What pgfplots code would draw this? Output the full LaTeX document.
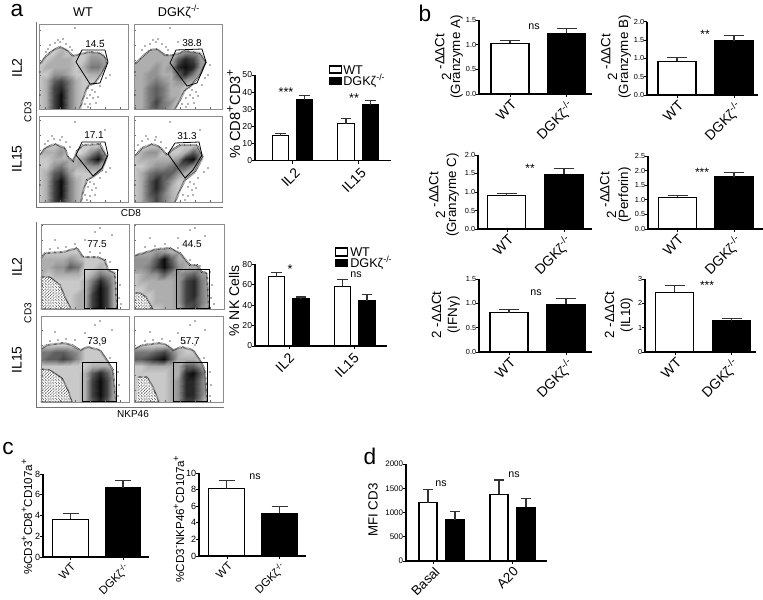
\documentclass[border=0pt]{standalone}
\usepackage{pgfplots}
\pgfplotsset{compat=1.18}
\usepackage{fontspec}
\setmainfont{Liberation Sans}
\usetikzlibrary{patterns}
\pgfdeclarepatternformonly{speckle}{\pgfqpoint{-0.2pt}{-0.2pt}}{\pgfqpoint{2.6pt}{2.6pt}}{\pgfqpoint{2.4pt}{2.4pt}}{%
 \pgfpathcircle{\pgfqpoint{0.4pt}{0.4pt}}{0.28pt}
 \pgfpathcircle{\pgfqpoint{1.5pt}{0.9pt}}{0.28pt}
 \pgfpathcircle{\pgfqpoint{0.7pt}{1.5pt}}{0.28pt}
 \pgfpathcircle{\pgfqpoint{1.9pt}{2.0pt}}{0.28pt}
 \pgfusepath{fill}}
\newcommand{\fs}[1]{\fontsize{#1}{#1}\selectfont}
\newcommand{\dgk}{DGKζ\textsuperscript{-/-}}
\newcommand{\supp}[1]{\raisebox{0.42em}{\fontsize{0.8em}{0.8em}\selectfont #1}}
\pgfplotsset{
 flowc/.style={line width=1.5pt,dash pattern=on 0.3pt off 0.6pt,color=black!85},
 fringe/.style={only marks,mark=*,mark size=0.2pt,color=black,mark options={draw=none,fill=black}},
 gate/.style={line width=0.6pt,color=black},
}
% x0 ybase xend ytop ymax opts xticks xlabels content
\newcommand{\barax}[9]{%
 \pgfmathsetmacro\axw{(#3-#1)*0.75}\pgfmathsetmacro\axh{(#2-#4)*0.75}%
 \begin{axis}[at={({#1*0.75pt},{-#2*0.75pt})},anchor=south west,scale only axis,width=\axw pt,height=\axh pt,
  xmin=#1,xmax=#3,ymin=0,ymax=#5,clip=false,
  axis x line=bottom,axis y line=left,axis line style={-,line width=0.8pt},
  tick style={black,line width=0.7pt},tick align=outside,major tick length=2.4pt,
  xtick={#7},xticklabels={#8},scaled y ticks=false,
  /pgf/number format/assume math mode=true,
  /pgf/number format/1000 sep={},
  xticklabel style={rotate=45,anchor=north east,inner sep=0.5pt,yshift=-0.6pt,font=\fs{10.5}},
  yticklabel style={inner sep=0.3pt,xshift=0.75pt,font=\fs{6.5}},
  #6]
 #9
 \end{axis}}
% cx barwidth(pt) y err colour capsize
\newcommand{\bbar}[6]{\addplot[ybar,bar width=#2pt,bar shift=0pt,draw=black,line width=0.9pt,fill=#5,
  error bars/.cd,y dir=plus,y explicit,error bar style={line width=0.8pt,color=black!80},
  error mark options={mark size=#6pt,line width=0.8pt,color=black!80,rotate=90}]
  coordinates {(#1,#3) +- (0,#4)};}
\newcommand{\flowpanel}[9]{%
 \pgfmathsetmacro\axw{(#3-#1)*0.75}\pgfmathsetmacro\axh{(#4-#2)*0.75}%
 \begin{axis}[at={({#1*0.75pt},{-#4*0.75pt})},anchor=south west,scale only axis,width=\axw pt,height=\axh pt,
  xmin=#1,xmax=#3,ymin=#2,ymax=#4,y dir=reverse,axis on top,
  colormap={bk}{gray(0cm)=(1);gray(9cm)=(0.05)},point meta min=0,point meta max=9,
  xtick distance=15,ytick distance=15,xticklabels={},yticklabels={},
  xtick pos=bottom,ytick pos=left,tick align=inside,major tick length=1.5pt,
  tick style={black!60,line width=0.4pt},axis line style={black!45,line width=0.7pt}]
 \addplot[surf,shader=interp,mesh/cols=13,point meta=explicit] table[row sep=\\,header=false,
   x expr={#1+(#3-#1)*mod(\coordindex,13)/12},y expr={#2+(#4-#2)*floor(\coordindex/13)/12},meta index=0] {#5};
 \addplot[fill=white,draw=none] coordinates {#6 (#3,#4) (#3,#2) (#1,#2)} --cycle;
 #9
 \addplot[flowc] coordinates {#6};
 \addplot[gate] coordinates {#7};
 \addplot[fringe] coordinates {#8};
 \end{axis}}
\newcommand{\speck}[1]{\addplot[fill=white,draw=none] coordinates {#1} --cycle;
 \addplot[pattern=speckle,pattern color=black,draw=none] coordinates {#1} --cycle;
 \addplot[line width=1pt,dash pattern=on 0.3pt off 0.6pt,color=black] coordinates {#1};}
\begin{document}
\begin{tikzpicture}[x=0.75pt,y=-0.75pt]
\useasboundingbox (0,0) rectangle (763,599);
% ---------- panel a, flow plots CD8
\flowpanel{39}{24}{128}{109}{%
2\\2\\2\\2\\2\\2\\2\\2\\2\\2\\2\\2\\2\\
2\\2\\2\\2\\2\\2\\2\\2\\2\\2\\2\\2\\2\\
2\\2\\2\\2\\2\\2\\2\\2\\2\\2\\2\\2\\2\\
2\\2\\2\\2\\2\\2\\2\\2\\2\\2\\2\\2\\2\\
2\\2\\2\\3\\2\\2\\2\\3\\3\\2\\2\\2\\2\\
2\\2\\3\\3\\3\\2\\2\\4\\4\\3\\2\\2\\2\\
2\\3\\3\\3\\3\\2\\3\\5\\5\\3\\2\\2\\2\\
2\\2\\4\\4\\3\\2\\2\\3\\3\\2\\2\\2\\2\\
2\\3\\6\\7\\5\\3\\2\\2\\2\\2\\2\\2\\2\\
2\\3\\7\\8\\5\\3\\2\\2\\2\\2\\2\\2\\2\\
2\\3\\7\\9\\5\\3\\2\\2\\2\\2\\2\\2\\2\\
2\\3\\7\\9\\5\\3\\2\\2\\2\\2\\2\\2\\2\\
2\\3\\7\\9\\5\\3\\2\\2\\2\\2\\2\\2\\2\\
}{(39,64) (41,63) (45,57) (53,50) (60,47) (67,50) (73,56) (80,54) (90,52) (100,53) (105,57) (107,63) (102,73) (95,83) (88,86) (85,93) (82,102) (80,109)}
{(82,50) (105,50) (108,62) (100,83) (90,84) (76,62) (82,50)}
{(50,45) (55,43) (60,42) (66,44) (48,49) (70,47) (72,50) (88,88) (92,90) (95,92) (90,95) (87,98) (93,98) (98,97) (85,104) (90,104) (96,103) (88,107) (103,40) (110,75) (40,72) (40,95) (75,28) (58,40) (63,39) (46,52) (106,78) (100,86)}{}
\flowpanel{134}{24}{222}{109}{%
2\\2\\2\\2\\2\\2\\2\\2\\2\\2\\2\\2\\2\\
2\\2\\2\\2\\2\\2\\2\\2\\2\\2\\2\\2\\2\\
2\\2\\2\\2\\2\\2\\2\\2\\2\\2\\2\\2\\2\\
2\\2\\2\\2\\2\\2\\2\\2\\2\\2\\2\\2\\2\\
3\\3\\3\\3\\3\\3\\3\\4\\4\\3\\3\\3\\3\\
3\\3\\3\\3\\3\\3\\6\\8\\7\\4\\3\\3\\3\\
3\\3\\3\\4\\3\\4\\8\\9\\8\\4\\3\\3\\3\\
3\\3\\4\\4\\3\\3\\6\\8\\5\\3\\3\\3\\3\\
3\\3\\4\\5\\4\\3\\4\\4\\3\\2\\2\\2\\2\\
3\\3\\5\\6\\5\\3\\3\\2\\2\\2\\2\\2\\2\\
3\\3\\5\\6\\5\\3\\3\\2\\2\\2\\2\\2\\2\\
3\\3\\5\\7\\5\\4\\2\\2\\2\\2\\2\\2\\2\\
3\\3\\5\\6\\5\\3\\2\\2\\2\\2\\2\\2\\2\\
}{(134,64) (136,63) (142,57) (150,50) (157,49) (165,55) (173,55) (185,51) (200,53) (206,62) (200,75) (190,87) (185,90) (180,100) (175,109)}
{(176,50) (202,49) (206,62) (197,83) (187,86) (170,63) (176,50)}
{(145,46) (150,44) (156,42) (162,44) (142,50) (166,47) (168,50) (192,90) (196,92) (190,95) (186,98) (193,98) (198,96) (182,104) (188,104) (194,103) (186,107) (198,40) (208,75) (135,72) (135,95) (170,28) (153,40) (158,39) (205,78) (202,85) (210,65) (178,42)}{}
\flowpanel{39}{116}{128}{202}{%
2\\2\\2\\2\\2\\2\\2\\2\\2\\2\\2\\2\\2\\
2\\2\\2\\2\\2\\2\\2\\2\\2\\2\\2\\2\\2\\
2\\2\\2\\2\\2\\2\\2\\2\\2\\2\\2\\2\\2\\
2\\2\\2\\2\\2\\2\\2\\2\\2\\2\\2\\2\\2\\
2\\2\\2\\3\\2\\2\\2\\2\\2\\2\\2\\2\\2\\
2\\3\\3\\4\\2\\1\\2\\4\\6\\3\\2\\2\\2\\
2\\2\\3\\3\\3\\3\\4\\7\\9\\4\\2\\2\\2\\
2\\2\\4\\5\\3\\3\\3\\4\\4\\2\\2\\2\\2\\
2\\3\\6\\7\\4\\2\\2\\2\\2\\2\\2\\2\\2\\
2\\3\\7\\9\\5\\3\\2\\2\\2\\2\\2\\2\\2\\
2\\3\\7\\9\\5\\3\\2\\2\\2\\2\\2\\2\\2\\
2\\3\\7\\9\\5\\3\\2\\2\\2\\2\\2\\2\\2\\
2\\3\\7\\8\\5\\3\\2\\2\\2\\2\\2\\2\\2\\
}{(39,155) (41,154) (45,148) (55,144) (65,148) (68,157) (73,161) (77,151) (83,145) (100,144) (107,157) (102,170) (93,177) (87,180) (83,192) (81,202)}
{(82,142) (105,142) (108,155) (102,168) (93,176) (76,155) (82,142)}
{(48,141) (54,139) (60,140) (66,142) (45,144) (70,147) (90,182) (94,184) (88,187) (92,190) (96,188) (85,195) (90,196) (95,195) (87,200) (105,130) (110,168) (40,165) (40,185) (75,122) (52,136) (62,137) (106,172) (100,178)}{}
\flowpanel{134}{116}{222}{202}{%
2\\2\\2\\2\\2\\2\\2\\2\\2\\2\\2\\2\\2\\
2\\2\\2\\2\\2\\2\\2\\2\\2\\2\\2\\2\\2\\
2\\2\\2\\2\\2\\2\\2\\2\\2\\2\\2\\2\\2\\
2\\2\\2\\2\\2\\2\\2\\2\\2\\2\\2\\2\\2\\
2\\2\\2\\2\\2\\2\\2\\2\\2\\2\\2\\2\\2\\
2\\3\\4\\4\\2\\2\\2\\3\\6\\4\\2\\2\\2\\
2\\3\\3\\3\\3\\3\\4\\8\\9\\4\\2\\2\\2\\
2\\2\\3\\4\\4\\5\\6\\6\\4\\3\\2\\2\\2\\
2\\3\\5\\6\\6\\6\\4\\3\\2\\2\\2\\2\\2\\
2\\3\\6\\8\\6\\4\\2\\2\\2\\2\\2\\2\\2\\
2\\3\\6\\8\\6\\3\\2\\2\\2\\2\\2\\2\\2\\
2\\3\\6\\7\\5\\3\\2\\2\\2\\2\\2\\2\\2\\
2\\3\\5\\7\\5\\3\\2\\2\\2\\2\\2\\2\\2\\
}{(134,156) (136,155) (142,148) (152,144) (160,147) (167,155) (172,150) (180,145) (197,145) (203,157) (195,172) (185,180) (180,190) (175,202)}
{(175,143) (199,142) (202,155) (193,170) (185,178) (168,154) (175,143)}
{(142,141) (148,139) (155,140) (161,142) (138,145) (166,148) (190,182) (194,184) (188,187) (192,190) (196,188) (183,195) (188,196) (193,195) (185,200) (200,130) (208,168) (135,165) (135,185) (170,122) (146,136) (156,137) (204,172) (198,178)}{}
\draw[black!55,line width=0.7pt] (36,22)--(36,207)--(223,207);
% ---------- panel a, flow plots NKP46
\flowpanel{41}{224}{129}{309}{%
2\\2\\2\\2\\2\\2\\2\\2\\2\\2\\2\\2\\2\\
2\\2\\2\\2\\2\\2\\2\\2\\2\\2\\2\\2\\2\\
2\\2\\2\\2\\2\\2\\2\\2\\2\\2\\2\\2\\2\\
2\\2\\2\\2\\2\\2\\2\\2\\2\\2\\2\\2\\2\\
2\\2\\2\\2\\2\\2\\2\\2\\2\\2\\2\\2\\2\\
3\\3\\3\\3\\4\\3\\2\\2\\2\\2\\2\\2\\2\\
3\\3\\4\\4\\6\\5\\2\\2\\3\\2\\2\\2\\2\\
3\\2\\3\\3\\3\\3\\2\\3\\5\\4\\3\\2\\2\\
3\\2\\2\\2\\2\\2\\3\\5\\8\\6\\3\\2\\2\\
2\\2\\2\\2\\2\\2\\3\\6\\9\\7\\3\\2\\2\\
2\\2\\2\\2\\2\\3\\3\\7\\9\\7\\3\\2\\2\\
2\\2\\2\\2\\2\\3\\3\\7\\9\\7\\3\\2\\2\\
2\\2\\2\\2\\2\\3\\3\\7\\9\\7\\3\\2\\2\\
}{(41,258) (45,253) (63,252) (77,248) (83,257) (97,257) (105,260) (108,270) (115,273) (117,309)}
{(84,269) (117,269) (117,308.5) (84,308.5) (84,269)}
{(50,249) (58,248) (66,247) (75,244) (90,252) (100,253) (110,262) (118,270) (120,285) (119,298) (121,304) (55,240) (85,240) (95,232) (112,235) (100,228)}
{\speck{(41,277) (50,277) (60,285) (65,297) (71,309) (41,309)}}
\flowpanel{134}{224}{224}{309}{%
2\\2\\2\\2\\2\\2\\2\\2\\2\\2\\2\\2\\2\\
2\\2\\2\\2\\2\\2\\2\\2\\2\\2\\2\\2\\2\\
2\\2\\2\\2\\2\\2\\2\\2\\2\\2\\2\\2\\2\\
2\\2\\2\\2\\2\\2\\2\\2\\2\\2\\2\\2\\2\\
3\\3\\3\\4\\4\\3\\3\\3\\2\\2\\2\\2\\2\\
4\\4\\4\\6\\9\\6\\3\\3\\2\\2\\2\\2\\2\\
4\\4\\5\\7\\9\\7\\4\\3\\3\\3\\3\\2\\2\\
3\\3\\4\\4\\6\\4\\4\\5\\6\\4\\3\\2\\2\\
2\\3\\3\\3\\3\\3\\4\\7\\8\\5\\3\\2\\2\\
2\\2\\3\\3\\3\\3\\4\\7\\8\\5\\3\\2\\2\\
2\\2\\2\\3\\3\\3\\4\\7\\8\\5\\3\\2\\2\\
2\\2\\2\\3\\3\\3\\4\\7\\7\\5\\3\\2\\2\\
2\\2\\2\\2\\3\\3\\3\\6\\7\\4\\3\\2\\2\\
}{(134,256) (136,255) (147,252) (157,249) (170,248) (180,253) (190,265) (197,265) (202,272) (207,273) (209,309)}
{(176,269) (209,269) (209,308.5) (176,308.5) (176,269)}
{(145,247) (155,246) (165,244) (178,248) (190,260) (200,266) (210,272) (212,285) (211,298) (214,304) (150,238) (178,238) (190,230) (205,236) (195,228)}
{\speck{(135,293) (140,293) (146,297) (153,309) (135,309)}}
\flowpanel{41}{316}{129}{402}{%
2\\2\\2\\2\\2\\2\\2\\2\\2\\2\\2\\2\\2\\
2\\2\\2\\2\\2\\2\\2\\2\\2\\2\\2\\2\\2\\
2\\2\\2\\2\\2\\2\\2\\2\\2\\2\\2\\2\\2\\
2\\2\\2\\2\\2\\2\\2\\2\\2\\2\\2\\2\\2\\
2\\2\\2\\2\\2\\2\\2\\2\\2\\2\\2\\2\\2\\
5\\5\\6\\6\\5\\4\\2\\2\\2\\2\\2\\2\\2\\
5\\6\\6\\7\\6\\4\\2\\2\\2\\2\\2\\2\\2\\
2\\2\\2\\2\\2\\2\\2\\3\\3\\3\\2\\2\\2\\
2\\2\\2\\2\\2\\2\\3\\6\\8\\6\\3\\2\\2\\
2\\2\\2\\2\\2\\2\\3\\7\\9\\7\\3\\2\\2\\
2\\2\\2\\2\\2\\2\\3\\7\\9\\7\\3\\2\\2\\
2\\2\\2\\2\\2\\2\\3\\7\\9\\7\\3\\2\\2\\
2\\2\\2\\2\\2\\2\\3\\6\\8\\6\\3\\2\\2\\
}{(41,349) (47,345) (63,343) (72,345) (80,350) (88,347) (100,350) (107,360) (113,370) (116,402)}
{(82,362) (116,362) (116,401.5) (82,401.5) (82,362)}
{(50,341) (58,340) (66,339) (75,340) (90,343) (100,345) (110,358) (118,372) (119,385) (118,396) (55,332) (85,333) (95,325) (112,330) (100,321)}
{\speck{(41,369) (50,370) (62,378) (68,390) (72,402) (41,402)}}
\flowpanel{134}{316}{223}{402}{%
2\\2\\2\\2\\2\\2\\2\\2\\2\\2\\2\\2\\2\\
2\\2\\2\\2\\2\\2\\2\\2\\2\\2\\2\\2\\2\\
2\\2\\2\\2\\2\\2\\2\\2\\2\\2\\2\\2\\2\\
2\\2\\2\\2\\2\\2\\2\\2\\2\\2\\2\\2\\2\\
2\\2\\2\\2\\2\\2\\2\\2\\2\\2\\2\\2\\2\\
5\\5\\5\\6\\7\\5\\3\\2\\2\\2\\2\\2\\2\\
6\\6\\7\\8\\9\\6\\3\\3\\3\\2\\2\\2\\2\\
2\\2\\3\\3\\3\\3\\3\\6\\6\\4\\2\\2\\2\\
2\\2\\2\\2\\2\\3\\3\\8\\9\\6\\3\\2\\2\\
2\\2\\2\\2\\2\\3\\4\\8\\8\\5\\3\\2\\2\\
2\\2\\2\\2\\2\\3\\4\\8\\8\\5\\3\\2\\2\\
2\\2\\2\\2\\2\\3\\4\\8\\8\\5\\2\\2\\2\\
2\\2\\2\\2\\2\\3\\4\\7\\7\\4\\2\\2\\2\\
}{(134,349) (136,348) (143,345) (160,343) (167,345) (173,350) (182,347) (193,350) (200,360) (205,370) (207,402)}
{(173,362) (207,362) (207,401.5) (173,401.5) (173,362)}
{(145,341) (153,340) (162,339) (170,341) (185,343) (195,345) (204,358) (210,372) (211,385) (210,396) (150,332) (178,333) (190,325) (205,330) (195,321)}
{\speck{(138,377) (147,377) (153,387) (159,402) (137,402)}}
\draw[black!55,line width=0.7pt] (36,222)--(36,407)--(224,407);
% ---------- flow labels
\foreach \x/\y/\t in {95/44/14.5,192/43/38.8,94/135/17.1,187/136/31.3,97/244/77.5,192/244/44.5,97/341/73.9,190/341/57.7}
  \node[font=\fs{7.5},inner sep=0] at (\x,\y) {\t};
\node[font=\fs{9.5}] at (83,12) {WT};
\node[font=\fs{9.5}] at (179,12) {\dgk};
\foreach \y/\t in {68/IL2,159/IL15,267/IL2,360/IL15}
  \node[font=\fs{10.5},rotate=90,inner sep=0] at (17,\y) {\t};
\node[font=\fs{7.5},rotate=90,inner sep=0] at (28,112) {CD3};
\node[font=\fs{7.5},rotate=90,inner sep=0] at (28,313) {CD3};
\node[font=\fs{7.5},inner sep=0] at (131,213) {CD8};
\node[font=\fs{7.5},inner sep=0] at (133,414) {NKP46};
\node[font=\fs{17},inner sep=0] at (17,11) {a};
\node[font=\fs{17},inner sep=0] at (425,13) {b};
\node[font=\fs{17},inner sep=0] at (8,449) {c};
\node[font=\fs{17},inner sep=0] at (370,456) {d};
% ---------- a bars
\barax{255}{160.7}{391}{75}{50}{ytick={0,10,20,30,40,50},xticklabel style={yshift=-1.5pt}}{292,358}{IL2,IL15}{
 \bbar{280.5}{12.5}{14.5}{1.2}{white}{4}
 \bbar{304.5}{12.5}{35.5}{2.6}{black}{4}
 \bbar{346}{12.5}{21.5}{3.3}{white}{4}
 \bbar{370.5}{12.5}{32.5}{2.4}{black}{4}}
\barax{255}{346}{387}{264.3}{80}{ytick={0,20,40,60,80},xticklabel style={xshift=-1.5pt}}{289,354}{IL2,IL15}{
 \bbar{276.5}{12.5}{68}{4}{white}{4}
 \bbar{301}{12.5}{46}{2}{black}{4}
 \bbar{342.5}{12.5}{58.5}{7}{white}{4}
 \bbar{367}{12.5}{44.5}{6}{black}{4}}
\node[font=\fs{11},rotate=90,anchor=base,inner sep=0] at (240,114) {\% CD8\supp{+}CD3\supp{+}};
\node[font=\fs{10.5},rotate=90,inner sep=0] at (234,301) {\% NK Cells};
\draw[line width=0.9pt,fill=white] (329.5,66) rectangle (341.5,73);
\fill (329,77) rectangle (342,85);
\node[font=\fs{9.5},anchor=west,inner sep=0] at (343,70) {WT};
\node[font=\fs{9.5},anchor=west,inner sep=0] at (343,81) {\dgk};
\draw[line width=0.9pt,fill=white] (335.5,248) rectangle (347.5,256);
\fill (335,259) rectangle (348,267);
\node[font=\fs{9.5},anchor=west,inner sep=0] at (350,252) {WT};
\node[font=\fs{9.5},anchor=west,inner sep=0] at (350,263) {\dgk};
\node[font=\fs{9.5},inner sep=0] at (286,92) {***};
\node[font=\fs{9.5},inner sep=0] at (354,98) {**};
\node[font=\fs{9.5},inner sep=0] at (290,269) {*};
\node[font=\fs{8},inner sep=0] at (356,275) {ns};
% ---------- b bars
\pgfplotsset{onedp/.style={yticklabel style={font=\fs{5.5},/pgf/number format/fixed,/pgf/number format/fixed zerofill,/pgf/number format/precision=1}}}
\barax{479}{94}{592}{20}{1.5}{onedp,ytick={0,0.5,1,1.5}}{510,566}{WT,\dgk}{
 \bbar{510}{28.5}{1.03}{0.05}{white}{7.5}
 \bbar{566.5}{28.5}{1.23}{0.09}{black}{7.5}}
\barax{647}{95}{758}{21.7}{2}{onedp,ytick={0,0.5,1,1.5,2}}{677,734}{WT,\dgk}{
 \bbar{677}{28.5}{0.92}{0.1}{white}{7.5}
 \bbar{734}{28.5}{1.48}{0.15}{black}{7.5}}
\barax{478}{229}{592}{155}{2}{onedp,ytick={0,0.5,1,1.5,2}}{507,564}{WT,\dgk}{
 \bbar{506.5}{28.5}{0.9}{0.05}{white}{7.5}
 \bbar{564}{28.5}{1.48}{0.16}{black}{7.5}}
\barax{648}{229}{763}{156}{2.5}{onedp,ytick={0,0.5,1,1.5,2,2.5}}{677,734}{WT,\dgk}{
 \bbar{677.5}{28.5}{1.08}{0.07}{white}{7.5}
 \bbar{734}{28.5}{1.78}{0.14}{black}{7.5}}
\barax{479}{352}{592}{279}{1.5}{onedp,ytick={0,0.5,1,1.5}}{509,566}{WT,\dgk}{
 \bbar{509}{28.5}{0.81}{0.07}{white}{7.5}
 \bbar{566}{28.5}{0.98}{0.11}{black}{7.5}}
\barax{645}{352}{756}{279}{3}{ytick={0,1,2,3},yticklabel style={font=\fs{5.5}}}{675,731}{WT,\dgk}{
 \bbar{674.5}{28.5}{2.45}{0.3}{white}{7.5}
 \bbar{731.5}{28.5}{1.28}{0.1}{black}{7.5}}
\newcommand{\ddct}[3]{\node[font=\fs{10},rotate=90,anchor=base,inner sep=0] at (#1,#2) {2\hspace{2.5pt}\raisebox{5pt}{-ΔΔCt}};
  }
\ddct{451}{57}{}
\node[font=\fs{10},rotate=90,anchor=base,inner sep=0] at (460,57) {(Granzyme A)};
\ddct{617}{57}{}
\node[font=\fs{10},rotate=90,anchor=base,inner sep=0] at (628,57) {(Granzyme B)};
\ddct{445}{195}{}
\node[font=\fs{10},rotate=90,anchor=base,inner sep=0] at (456,195) {(Granzyme C)};
\ddct{616}{195}{}
\node[font=\fs{10},rotate=90,anchor=base,inner sep=0] at (628,195) {(Perforin)};
\node[font=\fs{10},rotate=90,anchor=base,inner sep=0] at (441,315) {2 -ΔΔCt};
\node[font=\fs{10},rotate=90,anchor=base,inner sep=0] at (457,315) {(IFNγ)};
\node[font=\fs{10},rotate=90,anchor=base,inner sep=0] at (614,315) {2 -ΔΔCt};
\node[font=\fs{10},rotate=90,anchor=base,inner sep=0] at (630,315) {(IL10)};
\node[font=\fs{8},inner sep=0] at (534,27) {ns};
\node[font=\fs{9},inner sep=0] at (705,34) {**};
\node[font=\fs{9},inner sep=0] at (530,168) {**};
\node[font=\fs{9},inner sep=0] at (702,172) {***};
\node[font=\fs{8},inner sep=0] at (536,293) {ns};
\node[font=\fs{9},inner sep=0] at (707,285) {***};
% ---------- c
\barax{43}{557}{149}{474}{8}{ytick={0,2,4,6,8},yticklabel style={font=\fs{6.8}},xticklabel style={font=\fs{8.5}}}{70,123}{WT,\dgk}{
 \bbar{70.5}{26.5}{3.65}{0.5}{white}{6}
 \bbar{123}{26.5}{6.65}{0.75}{black}{6}}
\barax{199}{556}{306}{473}{10}{ytick={0,2,4,6,8,10},yticklabel style={font=\fs{6.8}},xticklabel style={font=\fs{8.5}}}{227,279}{WT,\dgk}{
 \bbar{226.5}{26.5}{8.1}{1.05}{white}{6}
 \bbar{279.5}{26.5}{5.15}{0.8}{black}{6}}
\node[font=\fs{8.7},rotate=90,anchor=base,inner sep=0] at (32,517) {\%CD3\supp{+}CD8\supp{+}CD107a\supp{+}};
\node[font=\fs{8.7},rotate=90,anchor=base,inner sep=0] at (184,519) {\%CD3\supp{-}NKP46\supp{+}CD107a\supp{+}};
\node[font=\fs{8},inner sep=0] at (255,477) {ns};
% ---------- d
\barax{406}{561}{547}{464}{2000}{ytick={0,500,1000,1500,2000},yticklabel style={font=\fs{6}},xticklabel style={font=\fs{10}}}{433,512}{Basal\hspace{-3.5pt},A20}{
 \bbar{428}{13.5}{1200}{270}{white}{3.5}
 \bbar{455}{13.5}{850}{170}{black}{3.5}
 \bbar{499}{13.5}{1375}{295}{white}{3.5}
 \bbar{526}{13.5}{1110}{180}{black}{3.5}}
\node[font=\fs{10},rotate=90,inner sep=0] at (373,510) {MFI CD3};
\node[font=\fs{8},inner sep=0] at (441,484) {ns};
\node[font=\fs{8},inner sep=0] at (514,475) {ns};
\end{tikzpicture}
\end{document}
